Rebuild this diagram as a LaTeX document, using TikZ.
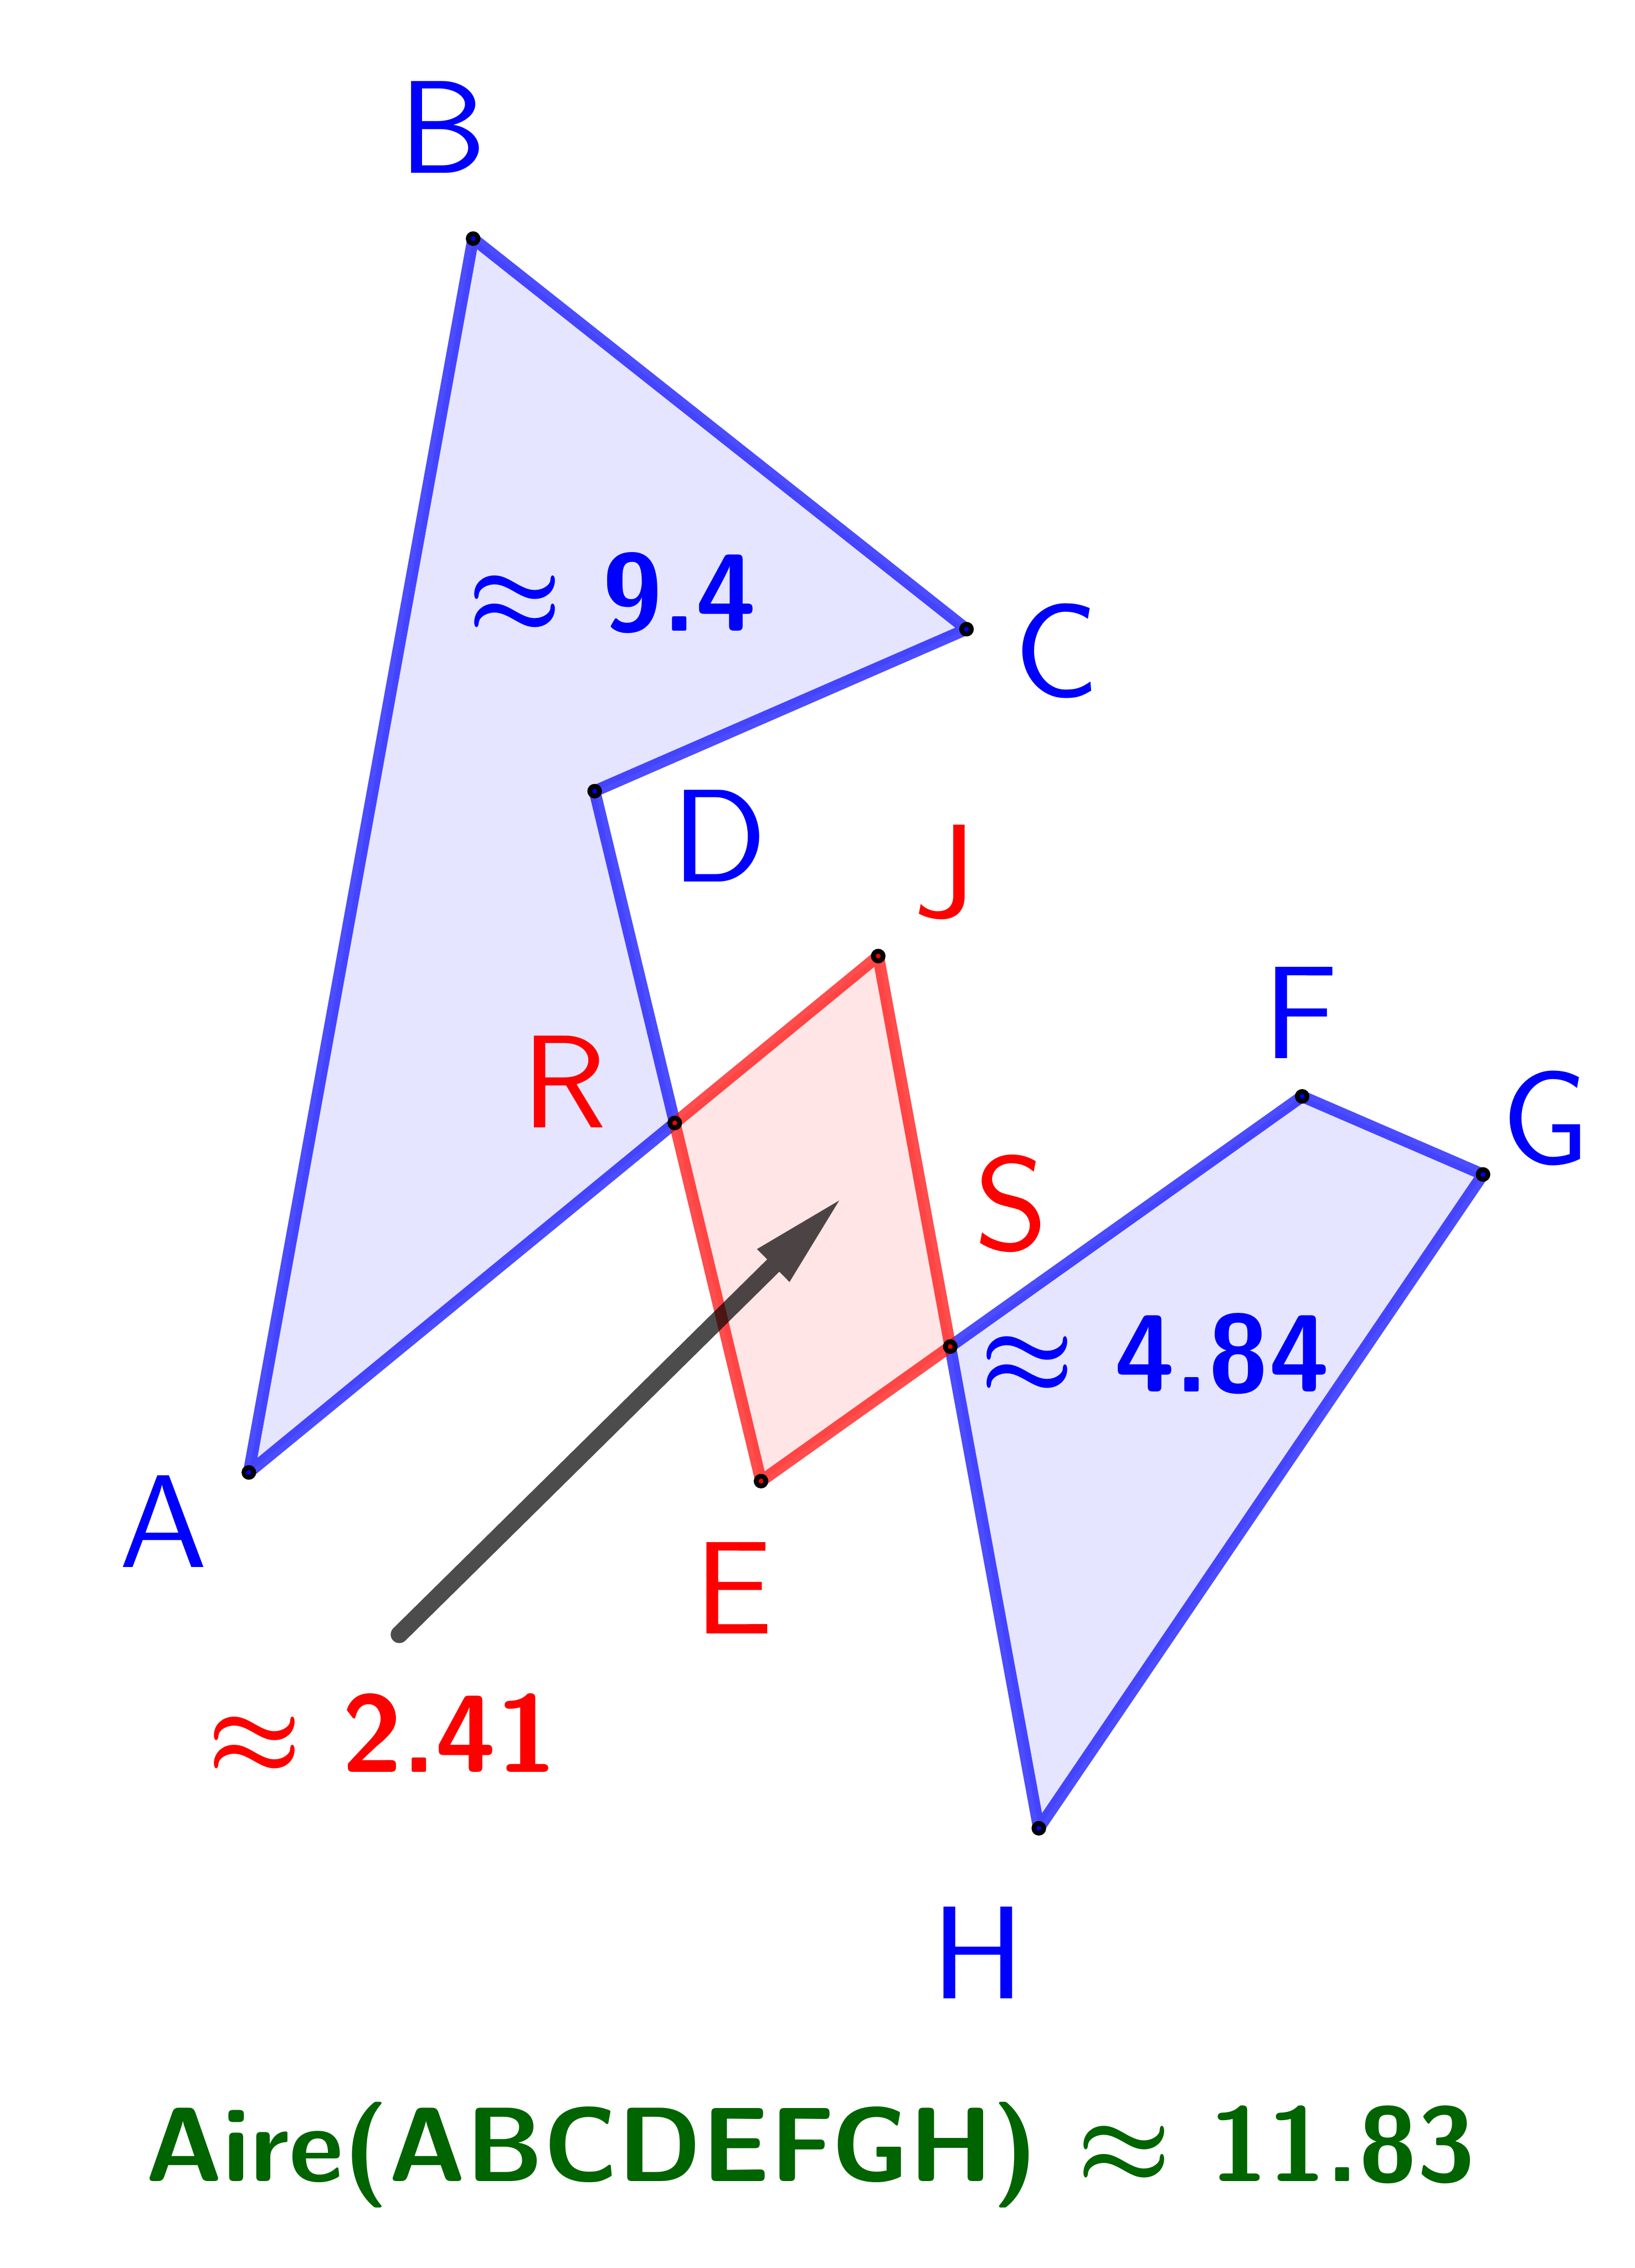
\documentclass[tikz,border=0pt]{standalone}
\usepackage{fontspec}
\usepackage{tikz}
\usetikzlibrary{arrows.meta}
\definecolor{ptblue}{HTML}{0000FF}
\definecolor{ptred}{HTML}{FF0000}
\definecolor{airegreen}{HTML}{006400}
\newfontfamily\lmsten[BoldFont=lmsans10-bold.otf]{lmsans10-regular.otf}
\newcommand{\ptfont}{\fontsize{26}{30}\selectfont\lmsten}
\newcommand{\valfont}{\fontsize{21.6}{26}\selectfont\lmsten\bfseries\boldmath}

\begin{document}
\begin{tikzpicture}[
    side/.style={line width=2.3pt, draw opacity=0.7, line join=round},
    pt/.style={circle, inner sep=0pt, minimum size=0.067cm, draw=black, line width=0.95pt, fill=#1},
    ptlabel/.style={inner sep=0pt, text=#1, font=\ptfont}]
  \useasboundingbox (0,0) rectangle (11.30,15.68);

  % vertices
  \coordinate (A) at (1.72,5.50);
  \coordinate (B) at (3.27,14.03);
  \coordinate (C) at (6.68,11.33);
  \coordinate (D) at (4.11,10.21);
  \coordinate (E) at (5.26,5.44);
  \coordinate (F) at (9.00,8.10);
  \coordinate (G) at (10.25,7.56);
  \coordinate (H) at (7.18,3.04);
  \coordinate (J) at (6.07,9.07);
  \coordinate (R) at (intersection of D--E and A--J);
  \coordinate (S) at (intersection of E--F and J--H);

  % areas
  \fill[blue!10] (A) -- (B) -- (C) -- (D) -- (R) -- cycle;
  \fill[blue!10] (S) -- (F) -- (G) -- (H) -- cycle;
  \fill[red!10] (R) -- (J) -- (S) -- (E) -- cycle;

  \draw[side, ptblue] (R) -- (A) -- (B) -- (C) -- (D) -- (R);
  \draw[side, ptblue] (S) -- (F) -- (G) -- (H) -- (S);
  \draw[side, ptred] (R) -- (J) -- (S) -- (E) -- (R);

  % vector
  \coordinate (u0) at (2.76,4.38);
  \coordinate (u1) at (5.80,7.38);
  \begin{scope}[transparency group, opacity=0.7]
    \draw[black, line width=3.4pt, line cap=round,
          -{Triangle[length=6.4mm, width=3.2mm, line width=0pt]}] (u0) -- (u1);
  \end{scope}

  \foreach \p in {A,B,C,D,F,G,H}
    \node[pt=ptblue] (p\p) at (\p) {};
  \foreach \p in {R,S,J,E}
    \node[pt=ptred] (p\p) at (\p) {};

  \node[ptlabel=ptblue] (lB) at (3.06,14.80) {B};
  \node[ptlabel=ptblue] (lC) at (7.30,11.18) {C};
  \node[ptlabel=ptblue] (lD) at (4.97,9.90) {D};
  \node[ptlabel=ptred] (lJ) at (6.53,9.65) {J};
  \node[ptlabel=ptblue] (lF) at (8.99,8.68) {F};
  \node[ptlabel=ptblue] (lG) at (10.68,7.95) {G};
  \node[ptlabel=ptred] (lR) at (3.90,8.20) {R};
  \node[ptlabel=ptred] (lS) at (6.99,7.36) {S};
  \node[ptlabel=ptblue] (lA) at (1.13,5.16) {A};
  \node[ptlabel=ptred] (lE) at (5.07,4.70) {E};
  \node[ptlabel=ptblue] (lH) at (6.76,2.18) {H};

  \node[inner sep=0pt, text=ptblue, font=\valfont] (aire1) at (4.23,11.58) {$\approx$ 9.4};
  \node[inner sep=0pt, text=ptblue, font=\valfont] (aire2) at (7.98,6.32) {$\approx$ 4.84};
  \node[inner sep=0pt, text=ptred, font=\valfont] (aire3) at (2.64,3.69) {$\approx$ 2.41};
  \node[inner sep=0pt, text=airegreen, font=\fontsize{20.8}{25}\selectfont\lmsten\bfseries\boldmath]
    (total) at (5.60,0.78) {Aire(ABCDEFGH) $\approx$ 11.83};
\end{tikzpicture}
\end{document}
